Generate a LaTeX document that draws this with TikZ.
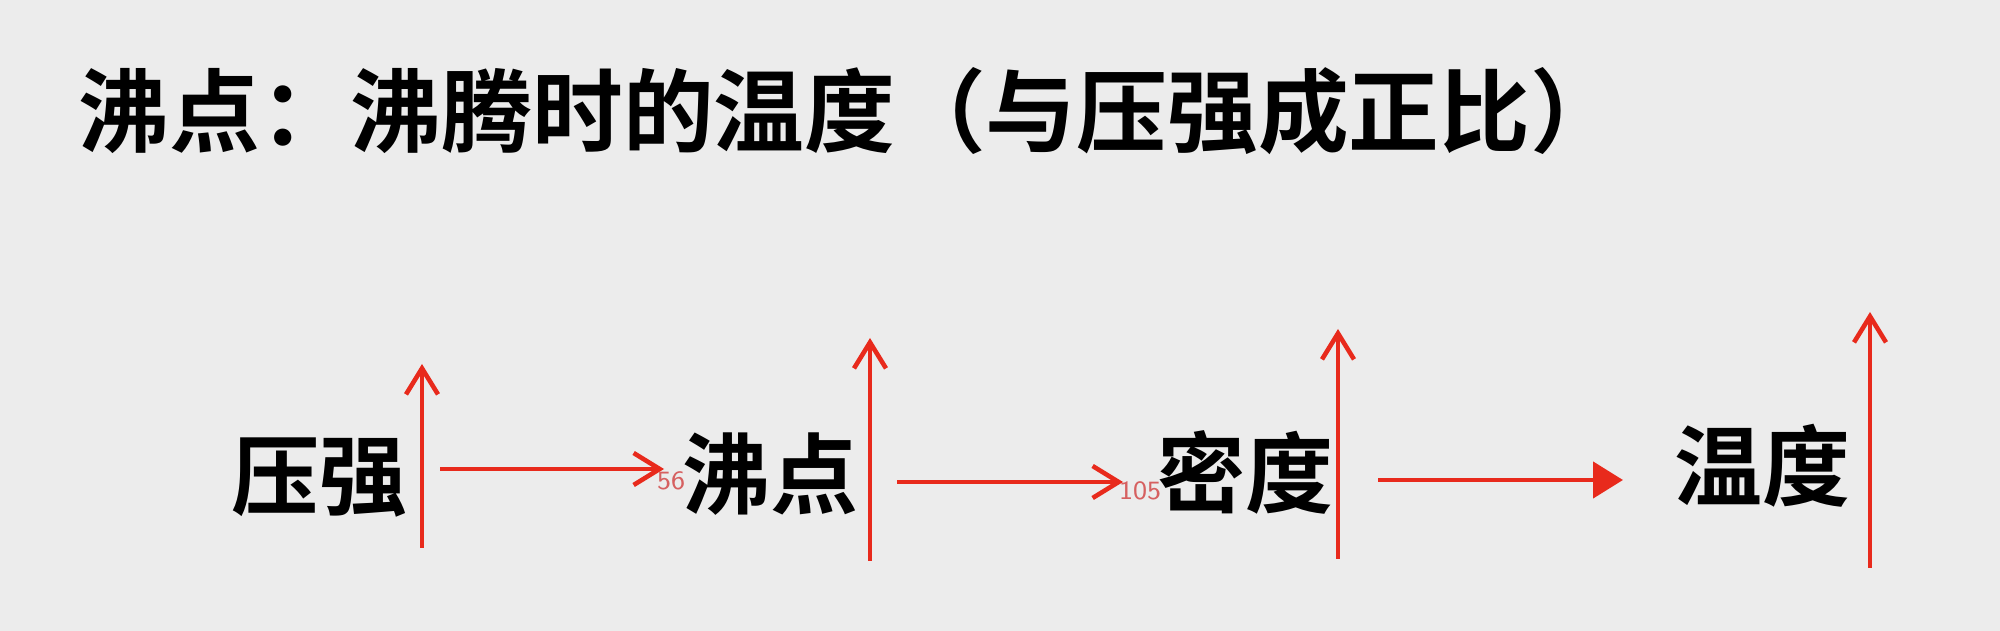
\documentclass[tikz,border=0pt]{standalone}
\usepackage{fontspec}
\newfontfamily\cjk{Noto Sans CJK SC}[UprightFont=* Bold]
\usetikzlibrary{calc}
\usetikzlibrary{arrows.meta}
\definecolor{bggray}{RGB}{236,236,236}
\definecolor{arrowred}{RGB}{232,42,28}
\definecolor{numred}{RGB}{214,96,96}
\tikzset{
  word/.style={font=\cjk\fontsize{25}{25}\selectfont, inner sep=0pt},
  redarrow/.style={draw=arrowred, line width=1.3pt, -{Straight Barb[length=2.6mm, width=3.2mm, line width=1.3pt]}},
  val/.style={font=\sffamily\fontsize{7.5}{7.5}\selectfont, text=numred, inner sep=0pt}
}
\begin{document}
\begin{tikzpicture}[x=0.01cm, y=-0.01cm]
    % Background
    \fill[bggray] (0,0) rectangle (2000,631);
    \useasboundingbox (0,0) rectangle (2000,631);

    % Title
    \node[word, font=\cjk\fontsize{25.8}{25.8}\selectfont, anchor=west] (title) at (78,111) {沸点：沸腾时的温度（与压强成正比）};

    % Words
    \node[word] (press) at (319,478) {压强};
    \node[word] (boil)  at (770,474) {沸点};
    \node[word] (dens)  at (1245,472) {密度};
    \node[word] (temp)  at (1762,466) {温度};

    % Vertical arrows
    \coordinate (P0) at (422,548);  \coordinate (P1) at (422,364);
    \coordinate (B0) at (870,561);  \coordinate (B1) at (870,338);
    \coordinate (D0) at (1338,559); \coordinate (D1) at (1338,329);
    \coordinate (T0) at (1870,568); \coordinate (T1) at (1870,312);
    \draw[redarrow] (P0) -- (P1);
    \draw[redarrow] (B0) -- (B1);
    \draw[redarrow] (D0) -- (D1);
    \draw[redarrow] (T0) -- (T1);

    % Horizontal arrows
    \coordinate (H1a) at (440,469);  \coordinate (H1b) at (664,469);
    \coordinate (H2a) at (897,482);  \coordinate (H2b) at (1123,482);
    \coordinate (H3a) at (1378,480); \coordinate (H3b) at (1623,480);
    \draw[redarrow] (H1a) -- (H1b);
    \draw[redarrow] (H2a) -- (H2b);
    \draw[draw=arrowred, line width=1.3pt, -{Triangle[length=3mm, width=3.6mm]}] (H3a) -- (H3b);

    % Small values
    \node[val] (v56)  at (671,481) {56};
    \node[val] (v105) at (1140,491) {105};
\end{tikzpicture}
\end{document}
